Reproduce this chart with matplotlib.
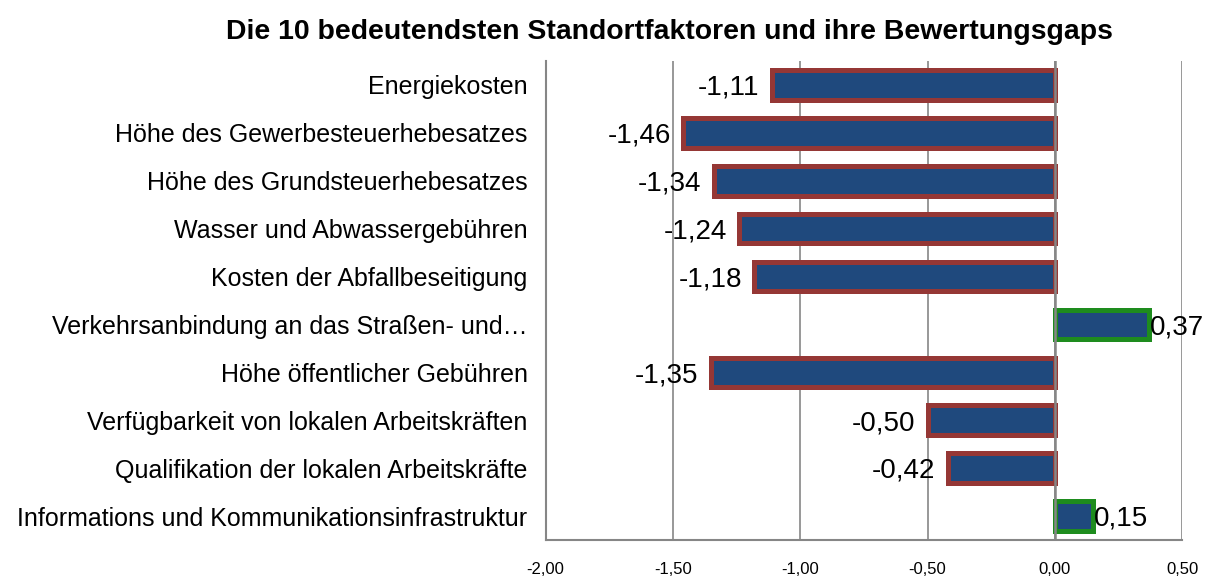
import matplotlib.pyplot as plt
import numpy as np

plt.rcParams['font.family'] = ['Liberation Sans', 'DejaVu Sans']

# data, top to bottom as in the chart
faktoren = [
    'Energiekosten',
    'Höhe des Gewerbesteuerhebesatzes',
    'Höhe des Grundsteuerhebesatzes',
    'Wasser und Abwassergebühren',
    'Kosten der Abfallbeseitigung',
    'Verkehrsanbindung an das Straßen- und…',
    'Höhe öffentlicher Gebühren',
    'Verfügbarkeit von lokalen Arbeitskräften',
    'Qualifikation der lokalen Arbeitskräfte',
    'Informations und Kommunikationsinfrastruktur',
]
gaps = [-1.11, -1.46, -1.34, -1.24, -1.18, 0.37, -1.35, -0.50, -0.42, 0.15]
x_ticks = [-2.0, -1.5, -1.0, -0.5, 0.0, 0.5]

fill = '#1f497d'
neg_edge = '#953735'
pos_edge = '#1e8c1e'
grid_col = '#868686'

fig = plt.figure(figsize=(12.11, 5.78), dpi=100)
ax = fig.add_axes([0.4506, 0.0657, 0.5255, 0.8288])

y = np.arange(len(faktoren))
edges = [neg_edge if v < 0 else pos_edge for v in gaps]
ax.barh(y, gaps, height=0.62, color=fill, edgecolor=edges, linewidth=3.6, zorder=3)
ax.axvline(0, color=grid_col, linewidth=1.8, zorder=3.5)

for yi, v in zip(y, gaps):
    txt = f'{v:.2f}'.replace('.', ',')
    if v < 0:
        ax.annotate(txt, (v, yi), xytext=(-9, -2), textcoords='offset points',
                    ha='right', va='center', fontsize=20, zorder=4)
    else:
        ax.annotate(txt, (v, yi), xytext=(1, -2), textcoords='offset points',
                    ha='left', va='center', fontsize=20, zorder=4)

ax.set_xlim(-2.0, 0.5)
ax.set_ylim(len(faktoren) - 0.5, -0.5)
ax.set_xticks(x_ticks)
ax.set_xticklabels([f'{t:.2f}'.replace('.', ',') for t in x_ticks], fontsize=12)
ax.set_yticks(y)
ax.set_yticklabels(faktoren, fontsize=18, va='center_baseline')
ax.tick_params(axis='y', length=0, pad=13)
ax.tick_params(axis='x', length=0, pad=16)

ax.grid(axis='x', color=grid_col, linewidth=1.2, zorder=0)
ax.set_axisbelow(True)
for s in ['top', 'right']:
    ax.spines[s].set_visible(False)
for s in ['left', 'bottom']:
    ax.spines[s].set_color(grid_col)
    ax.spines[s].set_linewidth(1.5)

fig.text(0.553, 0.945, 'Die 10 bedeutendsten Standortfaktoren und ihre Bewertungsgaps',
         ha='center', va='center', fontsize=20.4, fontweight='bold')

fig.savefig('out.png', dpi=100)
